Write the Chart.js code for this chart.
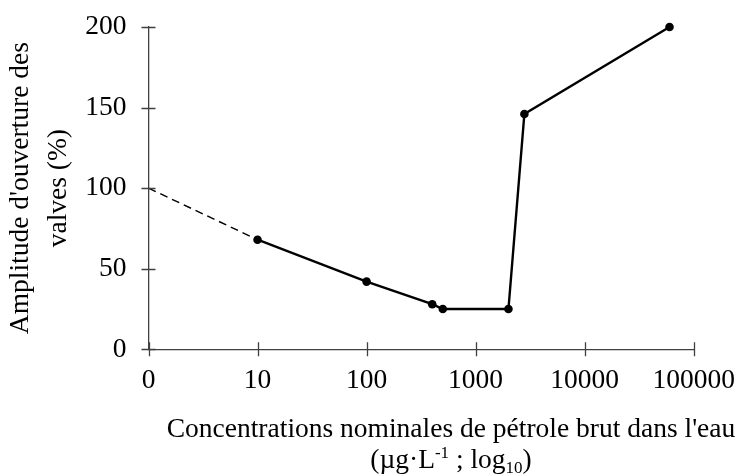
<!DOCTYPE html>
<html>
<head>
<meta charset="utf-8">
<script src="https://cdn.jsdelivr.net/npm/chart.js@4/dist/chart.umd.min.js"></script>
<style>
  html, body { margin: 0; padding: 0; background: #ffffff; }
</style>
</head>
<body>
<canvas id="chart" width="741" height="474"></canvas>
<script>
// Measured valve opening vs. nominal crude-oil concentration
const concentrations = [10, 100, 400, 500, 2000, 2800, 60000];
const amplitudes = [68, 42, 28, 25, 25, 146, 200];

// Extrapolated segment back to the control level
const controlConcentrations = [1, 10];
const controlAmplitudes = [100, 68];

// Axis ticks (the log axis starts at 1, labelled "0")
const xTickValues = [1, 10, 100, 1000, 10000, 100000];
const xTickLabels = ['0', '10', '100', '1000', '10000', '100000'];
const yTickValues = [0, 50, 100, 150, 200];

const yTitleLines = ["Amplitude d'ouverture des", 'valves (%)'];
const xTitleLine1 = "Concentrations nominales de pétrole brut dans l'eau";
// second line with its superscript / subscript pieces
const xTitleLine2 = [
  { text: '(µg·L', kind: 'normal' },
  { text: '-1', kind: 'sup' },
  { text: ' ; log', kind: 'normal' },
  { text: '10', kind: 'sub' },
  { text: ')', kind: 'normal' }
];

const FONT_FAMILY = "'Liberation Serif', 'Times New Roman', serif";
const FONT_SIZE = 27.5;
const AXIS_COLOR = '#404040';

// Excel-style tick marks that cross the axis line
const crossTicks = {
  id: 'crossTicks',
  afterDatasetsDraw(chart) {
    const { ctx, scales: { x, y } } = chart;
    const half = 7;
    ctx.save();
    ctx.strokeStyle = AXIS_COLOR;
    ctx.lineWidth = 1.3;
    ctx.beginPath();
    for (const v of yTickValues) {
      const py = Math.round(y.getPixelForValue(v)) + 0.5;
      ctx.moveTo(x.left - half, py);
      ctx.lineTo(x.left + half, py);
    }
    for (const v of xTickValues) {
      const px = Math.round(x.getPixelForValue(v)) + 0.5;
      ctx.moveTo(px, y.bottom - half);
      ctx.lineTo(px, y.bottom + half);
    }
    ctx.stroke();
    ctx.restore();
  }
};

// Two-line x-axis title with the unit written in sup/subscript
const xAxisTitle = {
  id: 'xAxisTitle',
  afterDraw(chart) {
    const { ctx } = chart;
    const cx = 451;
    ctx.save();
    ctx.fillStyle = '#000000';
    ctx.textBaseline = 'alphabetic';
    ctx.font = `${FONT_SIZE}px ${FONT_FAMILY}`;
    ctx.textAlign = 'center';
    ctx.fillText(xTitleLine1, cx, 437);

    const small = Math.round(FONT_SIZE * 0.62);
    const fontFor = k => (k === 'normal' ? `${FONT_SIZE}px ${FONT_FAMILY}` : `${small}px ${FONT_FAMILY}`);
    let total = 0;
    for (const p of xTitleLine2) {
      ctx.font = fontFor(p.kind);
      total += ctx.measureText(p.text).width;
    }
    let px = cx - total / 2;
    const base = 468;
    ctx.textAlign = 'left';
    for (const p of xTitleLine2) {
      ctx.font = fontFor(p.kind);
      const dy = p.kind === 'sup' ? -10 : (p.kind === 'sub' ? 5 : 0);
      ctx.fillText(p.text, px, base + dy);
      px += ctx.measureText(p.text).width;
    }
    ctx.restore();
  }
};

new Chart(document.getElementById('chart'), {
  type: 'line',
  data: {
    datasets: [
      {
        data: concentrations.map((c, i) => ({ x: c, y: amplitudes[i] })),
        borderColor: '#000000',
        backgroundColor: '#000000',
        borderWidth: 2.4,
        pointRadius: 4.3,
        pointBorderWidth: 0,
        pointBackgroundColor: '#000000',
        tension: 0,
        clip: false
      },
      {
        data: controlConcentrations.map((c, i) => ({ x: c, y: controlAmplitudes[i] })),
        borderColor: '#000000',
        borderWidth: 1.4,
        borderDash: [8, 5],
        pointRadius: 0,
        tension: 0,
        clip: false
      }
    ]
  },
  options: {
    responsive: false,
    animation: false,
    devicePixelRatio: 1,
    layout: { padding: { top: 27, right: 47.3, left: 0, bottom: 0 } },
    plugins: {
      legend: { display: false },
      tooltip: { enabled: false }
    },
    scales: {
      x: {
        type: 'logarithmic',
        min: 1,
        max: 100000,
        afterBuildTicks: s => { s.ticks = xTickValues.map(v => ({ value: v })); },
        afterFit: s => { s.height = 124.7; },
        ticks: {
          autoSkip: false,
          maxRotation: 0,
          padding: 0,
          color: '#000000',
          font: { family: FONT_FAMILY, size: FONT_SIZE },
          callback: v => xTickLabels[xTickValues.indexOf(v)]
        },
        grid: { display: true, drawOnChartArea: false, drawTicks: true, tickLength: 15, tickColor: 'rgba(0,0,0,0)' },
        border: { display: true, color: AXIS_COLOR, width: 1.3 }
      },
      y: {
        min: 0,
        max: 200,
        afterBuildTicks: s => { s.ticks = yTickValues.map(v => ({ value: v })); },
        afterFit: s => { s.width = 148.5; },
        ticks: {
          padding: 0,
          color: '#000000',
          font: { family: FONT_FAMILY, size: FONT_SIZE }
        },
        grid: { display: true, drawOnChartArea: false, drawTicks: true, tickLength: 22, tickColor: 'rgba(0,0,0,0)' },
        border: { display: true, color: AXIS_COLOR, width: 1.3 },
        title: {
          display: true,
          text: yTitleLines,
          color: '#000000',
          font: { family: FONT_FAMILY, size: FONT_SIZE, lineHeight: 1.38 },
          padding: { top: 2, bottom: 0 }
        }
      }
    }
  },
  plugins: [crossTicks, xAxisTitle]
});
</script>
</body>
</html>
